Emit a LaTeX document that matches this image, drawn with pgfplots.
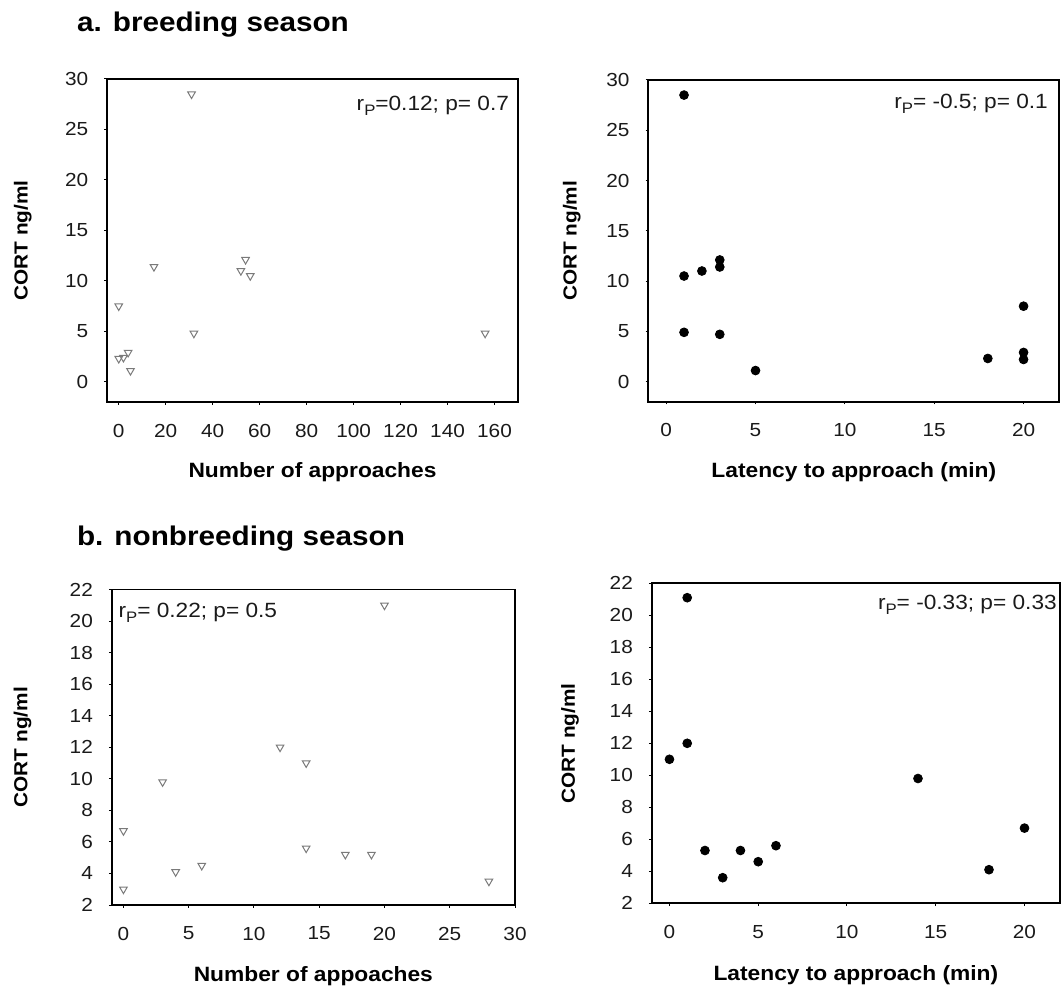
\documentclass[border=0pt]{standalone}
\usepackage{fontspec}
\setmainfont{Liberation Sans}[FakeStretch=1.1]
\usepackage{pgfplots}
\pgfplotsset{compat=1.18}
\definecolor{txt}{HTML}{1A1A1A}
\definecolor{tri}{HTML}{7A7A7A}
\newcommand{\rP}{r\raisebox{-0.45ex}{\fontsize{7.6}{8}\selectfont P}}

\tikzset{annot/.style={font=\fontsize{10.3}{12}\selectfont, text=txt, inner sep=0pt}}
\pgfplotsset{
  myax/.style={
    scale only axis,
    anchor=south west,
    axis line style={black, line width=0.9pt},
    tick align=outside,
    xtick pos=bottom, ytick pos=left,
    major tick length=1.4pt,
    tick style={black, line width=0.5pt},
    /pgf/number format/assume math mode=true,
    tick label style={font=\fontsize{9.45}{11}\selectfont, text=txt},
    xticklabel style={yshift=-6pt},
    yticklabel style={xshift=-4.5pt},
    clip=false,
  },
  ylab/.style={every axis y label/.style={at={(axis description cs:#1,0.5)}, rotate=90, anchor=center, font=\bfseries\fontsize{9.45}{11}\selectfont, text=black}},
  xlab/.style={every axis x label/.style={at={(axis description cs:0.5,#1)}, anchor=base, font=\bfseries\fontsize{10.35}{12}\selectfont, text=black}},
  tris/.style={only marks, mark=triangle, mark size=2.2pt, mark options={rotate=180, draw=tri, fill=white, line width=0.5pt}},
  dots/.style={only marks, mark=*, mark size=2.2pt, mark options={draw=black, fill=black}},
}

\begin{document}
\begin{tikzpicture}
\useasboundingbox (0,0) rectangle (530.5pt,493.5pt);

\node[anchor=base west, inner sep=0pt, font=\bfseries\fontsize{13.5}{16}\selectfont] at (38.35pt,477.65pt) {a. breeding season};
\node[anchor=base west, inner sep=0pt, font=\bfseries\fontsize{13.5}{16}\selectfont] at (38.35pt,221pt) {b. nonbreeding season};

% a-left
\begin{axis}[myax, at={(53.5pt,292.5pt)}, width=205.5pt, height=161.5pt,
  xmin=-5, xmax=170, ymin=-2, ymax=30,
  xtick={0,20,...,160}, ytick={0,5,...,30},
  xlabel={Number of approaches}, ylabel={CORT ng/ml},
  ylab=-0.205, xlab=-0.233]
\addplot[tris] coordinates {
(31,28.5) (15,11.4) (52,11.0) (54,12.1) (56,10.5) (0,7.5)
(32,4.8) (156,4.8) (0,2.3) (2,2.4) (4,2.9) (5,1.1)
};
\node[annot, anchor=base east] at (axis description cs:0.979,0.902) {\rP=0.12; p= 0.7};
\end{axis}

% a-right
\begin{axis}[myax, at={(324.15pt,292.65pt)}, width=205.5pt, height=160.85pt,
  xmin=-1, xmax=22, ymin=-2, ymax=30,
  xtick={0,5,...,20}, ytick={0,5,...,30},
  xlabel={Latency to approach (min)}, ylabel={CORT ng/ml},
  ylab=-0.186, xlab=-0.235]
\addplot[dots] coordinates {
(1,28.5) (1,10.5) (2,11.0) (3,12.1) (3,11.4) (1,4.9)
(3,4.7) (5,1.1) (18,2.3) (20,7.5) (20,2.9) (20,2.2)
};
\node[annot, anchor=base east] at (axis description cs:0.973,0.912) {\rP= -0.5; p= 0.1};
\end{axis}

% b-left
\begin{axis}[myax, at={(55.85pt,41pt)}, width=201.65pt, height=157.75pt,
  xmin=-0.9, xmax=30, ymin=2, ymax=22,
  xtick={0,5,...,30}, ytick={2,4,...,22},
  xlabel={Number of appoaches}, ylabel={CORT ng/ml},
  ylab=-0.221, xlab=-0.241]
\addplot[tris] coordinates {
(20,21.0) (12,12.0) (14,11.0) (3,9.8) (0,6.7) (14,5.6)
(17,5.2) (19,5.2) (4,4.1) (6,4.5) (0,3.0) (28,3.5)
};
\node[annot, anchor=base west] at (axis description cs:0.016,0.912) {\rP= 0.22; p= 0.5};
\end{axis}

% b-right
\begin{axis}[myax, at={(325.85pt,41.85pt)}, width=204.15pt, height=160pt,
  xmin=-1, xmax=22, ymin=2, ymax=22,
  xtick={0,5,...,20}, ytick={2,4,...,22},
  xlabel={Latency to approach (min)}, ylabel={CORT ng/ml},
  ylab=-0.2, xlab=-0.24]
\addplot[dots] coordinates {
(0,11.0) (1,21.1) (1,12.0) (2,5.3) (3,3.6) (4,5.3)
(5,4.6) (6,5.6) (14,9.8) (18,4.1) (20,6.7)
};
\node[annot, anchor=base east] at (axis description cs:0.993,0.917) {\rP= -0.33; p= 0.33};
\end{axis}
\end{tikzpicture}
\end{document}
